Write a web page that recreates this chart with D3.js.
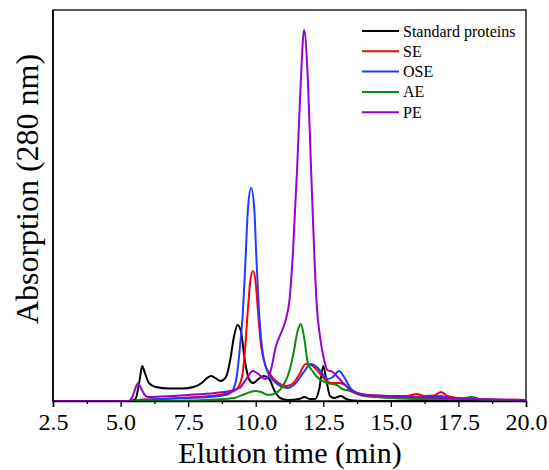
<!DOCTYPE html>
<html>
<head>
<meta charset="utf-8">
<script src="https://cdn.jsdelivr.net/npm/d3@7"></script>
<style>
  body { margin: 0; background: #fff; }
  svg text { font-family: "Liberation Serif", "Times New Roman", serif; fill: #000; }
</style>
</head>
<body>
<div id="chart"></div>
<script>
// series: [elution time (min), absorbance (a.u.)]
const standardProteins = [
  [2.5, 0], [5.3, 0], [5.55, 2], [5.7, 20], [5.8, 35], [5.9, 28], [6.05, 18], [6.3, 14],
  [6.8, 12.5], [7.3, 12.5], [7.7, 14], [8.0, 18], [8.2, 23], [8.35, 25], [8.5, 23], [8.7, 20],
  [8.9, 24], [9.05, 40], [9.2, 65], [9.33, 76], [9.45, 70], [9.6, 40], [9.75, 22], [9.9, 18],
  [10.1, 22], [10.3, 25], [10.5, 22], [10.7, 10], [10.9, 3], [11.2, 1], [11.6, 2], [11.8, 4],
  [12.0, 2], [12.2, 2], [12.35, 12], [12.5, 35], [12.62, 20], [12.75, 5], [12.9, 3],
  [13.15, 5], [13.35, 2], [13.6, 0.5], [14, 0], [20, 0]
];
const se = [
  [2.5, 0], [5.4, 0], [5.7, 1], [6.5, 2], [7.5, 3.5], [8.5, 5.5], [9.0, 8], [9.3, 12],
  [9.5, 25], [9.6, 50], [9.71, 91], [9.8, 120], [9.9, 130], [10.0, 118], [10.08, 91],
  [10.2, 55], [10.35, 36], [10.5, 28], [10.75, 20], [11.15, 15], [11.4, 18], [11.6, 26],
  [11.85, 37], [12.05, 36], [12.3, 30], [12.55, 22], [12.8, 18], [13.1, 18], [13.3, 16],
  [13.5, 12], [13.75, 8], [14.2, 6], [15.0, 5], [15.6, 5], [15.95, 7], [16.25, 5],
  [16.6, 5.5], [16.85, 9], [17.1, 5], [17.5, 3], [18.5, 1.5], [20, 1]
];
const ose = [
  [2.5, 0], [5.4, 0], [5.7, 1], [6.5, 2], [7.5, 3], [8.5, 4.5], [9.0, 7], [9.16, 11],
  [9.3, 25], [9.42, 55], [9.53, 91], [9.62, 140], [9.72, 195], [9.83, 213], [9.94, 195],
  [10.03, 140], [10.12, 91], [10.25, 50], [10.4, 32], [10.6, 22], [10.9, 15], [11.15, 13],
  [11.45, 17], [11.75, 28], [12.05, 37], [12.3, 33], [12.67, 22], [12.85, 24], [13.08, 30],
  [13.27, 24], [13.5, 13], [13.75, 8], [14.2, 5], [15, 4], [16, 3.5], [16.85, 5], [17.2, 3],
  [18, 2], [19, 1], [20, 1]
];
const ae = [
  [2.5, 0], [6.5, 0], [7.5, 0.5], [8.5, 1.5], [9.2, 3], [9.6, 7], [9.97, 10], [10.2, 9],
  [10.45, 6], [10.75, 8], [11.0, 15], [11.2, 26], [11.4, 48], [11.55, 70], [11.67, 77],
  [11.8, 62], [11.93, 38], [12.1, 30], [12.27, 24], [12.64, 18], [13.0, 16], [13.2, 12],
  [13.38, 11], [13.75, 7], [14, 5], [15, 3], [16, 2], [17.5, 2], [18.0, 4], [18.3, 2],
  [19, 1], [20, 0.5]
];
const pe = [
  [2.5, 0], [5.3, 0], [5.45, 5], [5.58, 15], [5.65, 18], [5.75, 13], [5.9, 6], [6.0, 4],
  [6.5, 4.5], [7.5, 6], [8.5, 8], [9.05, 10], [9.4, 13], [9.65, 22], [9.9, 30], [10.1, 27],
  [10.35, 22], [10.55, 30], [10.75, 55], [11.0, 72], [11.12, 82], [11.25, 101], [11.38, 150],
  [11.53, 231], [11.67, 321], [11.79, 371], [11.93, 321], [12.05, 231], [12.27, 91],
  [12.35, 70], [12.5, 45], [12.65, 31], [12.85, 29], [13.0, 25], [13.2, 19], [13.35, 15],
  [13.6, 9], [14, 6], [15, 5], [16, 4], [17, 3], [18, 2], [19, 1.5], [20, 1]
];

const seriesNames = ["Standard proteins", "SE", "OSE", "AE", "PE"];
const seriesData = [standardProteins, se, ose, ae, pe];
const seriesColors = ["#000000", "#ff0000", "#1f3cff", "#0b8a0b", "#9a00cc"];
const xTicks = [2.5, 5.0, 7.5, 10.0, 12.5, 15.0, 17.5, 20.0];
const xMinorTicks = [3.75, 6.25, 8.75, 11.25, 13.75, 16.25, 18.75];

const serif = '"Liberation Serif", "Times New Roman", serif';
const W = 549, H = 470;
const margin = { top: 10, right: 23, bottom: 69, left: 53 };
const width = W - margin.left - margin.right,
  height = H - margin.top - margin.bottom;

const svg = d3.select("#chart").append("svg")
  .attr("width", W).attr("height", H);
const g = svg.append("g")
  .attr("transform", `translate(${margin.left},${margin.top})`);

const x = d3.scaleLinear().domain([2.5, 20]).range([0, width]);
const y = d3.scaleLinear().domain([0, 391]).range([height, 0]);

// frame
g.append("rect")
  .attr("width", width).attr("height", height)
  .attr("fill", "none").attr("stroke", "#000").attr("stroke-width", 1.3);

// lines
const line = d3.line()
  .x((d) => x(d[0]))
  .y((d) => y(d[1]))
  .curve(d3.curveMonotoneX);

seriesData.forEach((d, i) => {
  g.append("path")
    .attr("d", line(d))
    .attr("fill", "none")
    .attr("stroke", seriesColors[i])
    .attr("stroke-width", 2);
});

// x axis
const xAxis = g.append("g")
  .attr("transform", `translate(0,${height})`)
  .call(d3.axisBottom(x).tickValues(xTicks).tickFormat(d3.format(".1f"))
    .tickSize(6).tickPadding(6))
  .attr("font-family", serif)
  .attr("font-size", 24);
xAxis.select(".domain").attr("stroke-width", 1.5);
xAxis.selectAll("line").attr("stroke-width", 1.3);
xAxis.selectAll("text").style("font-family", serif).style("font-size", "24px");

const xMinor = g.append("g")
  .attr("transform", `translate(0,${height})`)
  .call(d3.axisBottom(x).tickValues(xMinorTicks).tickFormat("").tickSize(3));
xMinor.select(".domain").remove();
xMinor.selectAll("line").attr("stroke-width", 1.3);

// left spine a bit heavier
g.append("line")
  .attr("x1", 0).attr("x2", 0).attr("y1", 0).attr("y2", height)
  .attr("stroke", "#000").attr("stroke-width", 1.6);

// axis titles
svg.append("text")
  .attr("x", 290).attr("y", 463)
  .attr("text-anchor", "middle")
  .style("font-size", "30px")
  .text("Elution time (min)");

svg.append("text")
  .attr("transform", "translate(38,189) rotate(-90)")
  .attr("text-anchor", "middle")
  .style("font-size", "32px")
  .text("Absorption (280 nm)");

// legend
const legend = svg.append("g").attr("transform", "translate(362,31)");
seriesNames.forEach((name, i) => {
  const row = legend.append("g").attr("transform", `translate(0,${i * 20.3})`);
  row.append("line")
    .attr("x1", 0).attr("x2", 37)
    .attr("stroke", seriesColors[i]).attr("stroke-width", 2);
  row.append("text")
    .attr("x", 41).attr("y", 5.5)
    .style("font-size", "16px")
    .text(name);
});
</script>
</body>
</html>
